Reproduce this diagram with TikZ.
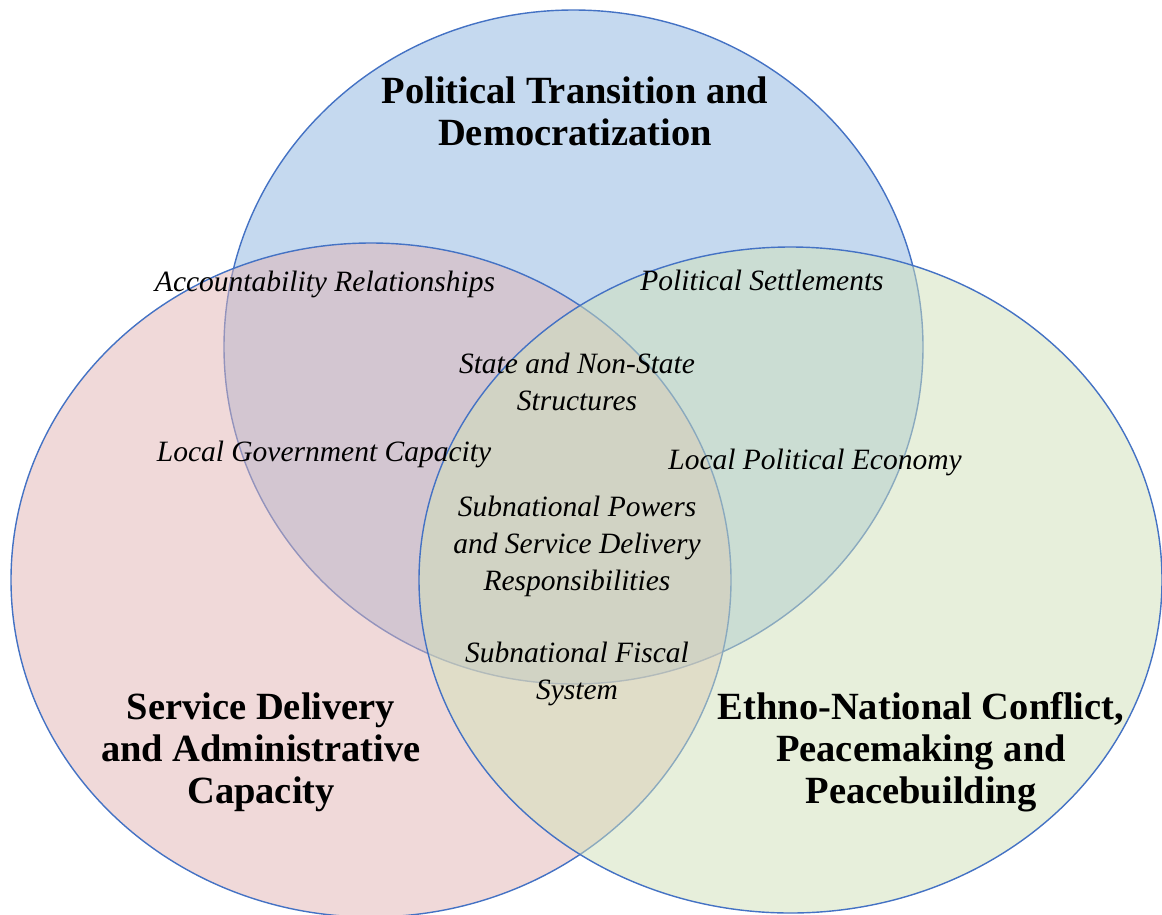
\documentclass[tikz,border=0pt]{standalone}
\usepackage{fontspec}
\setmainfont{Liberation Serif}
\definecolor{blueedge}{RGB}{68,114,196}
\definecolor{bluefill}{RGB}{197,217,239}
\definecolor{pinkfill}{RGB}{226,181,181}
\definecolor{greenfill}{RGB}{209,225,185}
\tikzset{
  venn/.style={draw=blueedge, line width=1.4pt},
  title/.style={font=\bfseries\fontsize{38.5}{42}\selectfont, align=center, inner sep=0pt, text=black},
  topic/.style={font=\itshape\fontsize{29.5}{37}\selectfont, align=center, inner sep=0pt, text=black}
}
\begin{document}
\begin{tikzpicture}[x=1pt,y=-1pt]
\useasboundingbox (0,0) rectangle (1162,914);
\clip (0,0) rectangle (1162,914);
\fill[white] (0,0) rectangle (1162,914);
% circles
\path[venn, fill=bluefill] (573.5,347) ellipse [x radius=349.5, y radius=337];
\path[venn, fill=pinkfill, fill opacity=0.5] (371,580) ellipse [x radius=360, y radius=337];
\path[venn, fill=greenfill, fill opacity=0.5] (790.5,580) ellipse [x radius=371.5, y radius=333];
% titles
\node[title] (pol) at (575,111) {Political Transition and\\Democratization};
\node[title] (svc) at (261,752) {Service Delivery\\and Administrative\\Capacity};
\node[title] (eth) at (921,752) {Ethno-National Conflict,\\Peacemaking and\\Peacebuilding};
% topics
\node[topic] (acc) at (325,284) {Accountability Relationships};
\node[topic] (set) at (762,280) {Political Settlements};
\node[topic] (sta) at (577,382) {State and Non-State\\Structures};
\node[topic] (lgc) at (324,454) {Local Government Capacity};
\node[topic] (lpe) at (815,462) {Local Political Economy};
\node[topic] (sub) at (577,546) {Subnational Powers\\and Service Delivery\\Responsibilities};
\node[topic] (fis) at (577,674) {Subnational Fiscal\\System};
\end{tikzpicture}
\end{document}
